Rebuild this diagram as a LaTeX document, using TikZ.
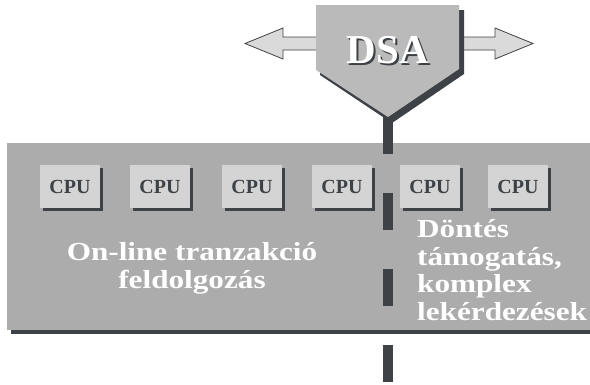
\documentclass[tikz,border=0pt]{standalone}
\usepackage{fontspec}
\usepackage{graphicx}
\setmainfont{Liberation Serif}
\usetikzlibrary{positioning}
\definecolor{panelgray}{RGB}{172,172,172}
\definecolor{cpugray}{RGB}{212,212,212}
\definecolor{dsagray}{RGB}{186,186,186}
\definecolor{arrowgray}{RGB}{218,218,218}
\definecolor{darkshade}{RGB}{62,66,70}
\newcommand{\wideline}[1]{\scalebox{1.2}[1]{#1}}

\begin{document}
\begin{tikzpicture}[
  x=1pt, y=-1pt,
  cpubox/.style={fill=cpugray, minimum width=60pt, minimum height=43pt,
                 inner sep=0pt, text=darkshade,
                 font=\fontsize{20}{22}\selectfont\bfseries},
  cpushade/.style={fill=darkshade, minimum width=60pt, minimum height=43pt,
                   inner sep=0pt},
  dsatext/.style={inner sep=0pt, font=\fontsize{41}{44}\selectfont\bfseries},
  whitetext/.style={text=white, inner sep=0pt,
                    font=\fontsize{26}{27.5}\selectfont\bfseries},
  bus/.style={draw=darkshade, line width=10pt, dash pattern=on 37pt off 39pt}
]
\useasboundingbox (0,0) rectangle (590,384);

% -- two-way arrow behind the DSA --
\filldraw[fill=arrowgray, draw=darkshade, line width=0.8pt]
  (245,43.5) -- (283,28) -- (283,37) -- (495,37) -- (495,28) -- (533,43.5)
  -- (495,59) -- (495,50) -- (283,50) -- (283,59) -- cycle;

% -- DSA funnel --
\fill[darkshade] (320,10) -- (464,10) -- (464,74) -- (392,123) -- (320,75) -- cycle;
\fill[dsagray] (316,5) -- (459,5) -- (459,69) -- (388,117) -- (316,70) -- cycle;
\node[dsatext, text=darkshade] (dsashade) at (390,52.5) {DSA};
\node[dsatext, text=white] (dsa) at (388,50.5) {DSA};
\coordinate (tip) at (388,117);

% -- machine panel --
\fill[darkshade] (11,147) rectangle (594,334);
\fill[panelgray] (7,143) rectangle (590,330);

% -- processors --
\foreach \x [count=\i] in {70,160,252,342,430,518} {
  \node[cpushade] (shade\i) at (\x+3,189.5) {};
  \node[cpubox] (cpu\i) at (\x,186.5) {CPU};
}

% -- workload labels (base = last line) --
\node[whitetext, align=center, anchor=base] (oltp) at (192,288)
  {\wideline{On-line tranzakció}\\\wideline{feldolgozás}};
\node[whitetext, align=left, anchor=base west] (dss) at (417,320)
  {\wideline{Döntés}\\\wideline{támogatás,}\\\wideline{komplex}\\\wideline{lekérdezések}};

% -- bus --
\coordinate (busend) at (388,384);
\draw[bus] (tip) -- (busend);

\end{tikzpicture}
\end{document}
